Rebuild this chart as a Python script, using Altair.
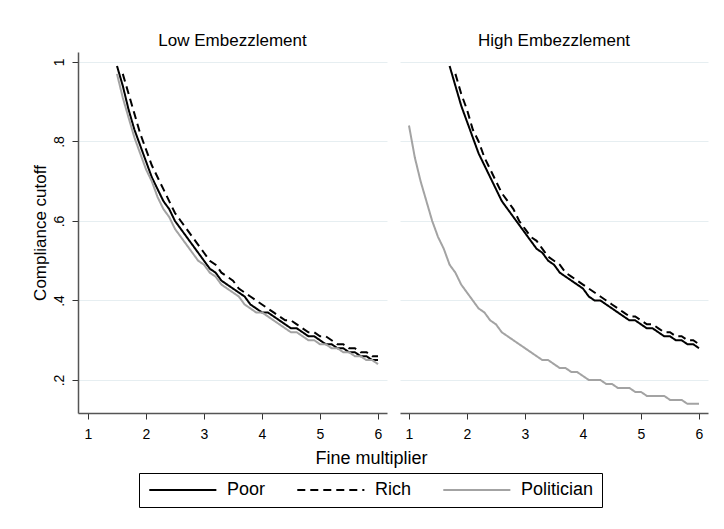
import altair as alt
import pandas as pd

FONT = "Liberation Sans"

# Fine multiplier grid (x values)
fine_grid = [1.0, 1.1, 1.2, 1.3, 1.4, 1.5, 1.6, 1.7, 1.8, 1.9,
             2.0, 2.1, 2.2, 2.3, 2.4, 2.5, 2.6, 2.7, 2.8, 2.9,
             3.0, 3.1, 3.2, 3.3, 3.4, 3.5, 3.6, 3.7, 3.8, 3.9,
             4.0, 4.1, 4.2, 4.3, 4.4, 4.5, 4.6, 4.7, 4.8, 4.9,
             5.0, 5.1, 5.2, 5.3, 5.4, 5.5, 5.6, 5.7, 5.8, 5.9, 6.0]

series_order = ["Poor", "Rich", "Politician"]
panels = ["Low Embezzlement", "High Embezzlement"]

# Low embezzlement
low_poor = [None] * 5 + [0.99, 0.94, 0.88, 0.83, 0.79, 0.75, 0.71, 0.68, 0.65, 0.63,
                         0.60, 0.58, 0.56, 0.54, 0.52, 0.50, 0.48, 0.47, 0.45, 0.44,
                         0.43, 0.42, 0.41, 0.39, 0.38, 0.37, 0.37, 0.36, 0.35, 0.34,
                         0.33, 0.33, 0.32, 0.31, 0.31, 0.30, 0.29, 0.29, 0.28, 0.28,
                         0.27, 0.27, 0.26, 0.26, 0.25, 0.25]
low_rich = [None] * 6 + [0.97, 0.92, 0.87, 0.82, 0.78, 0.74, 0.71, 0.68, 0.65, 0.62,
                         0.60, 0.58, 0.56, 0.54, 0.52, 0.50, 0.49, 0.47, 0.46, 0.45,
                         0.43, 0.42, 0.41, 0.40, 0.39, 0.38, 0.37, 0.36, 0.35, 0.35,
                         0.34, 0.33, 0.32, 0.32, 0.31, 0.31, 0.30, 0.29, 0.29, 0.28,
                         0.28, 0.27, 0.27, 0.26, 0.26]
low_politician = [None] * 5 + [0.97, 0.91, 0.86, 0.81, 0.77, 0.73, 0.70, 0.66, 0.63, 0.61,
                               0.58, 0.56, 0.54, 0.52, 0.50, 0.49, 0.47, 0.46, 0.44, 0.43,
                               0.42, 0.41, 0.39, 0.38, 0.37, 0.37, 0.36, 0.35, 0.34, 0.33,
                               0.32, 0.32, 0.31, 0.30, 0.30, 0.29, 0.29, 0.28, 0.28, 0.27,
                               0.27, 0.26, 0.26, 0.25, 0.25, 0.24]

# High embezzlement
high_poor = [None] * 7 + [0.99, 0.94, 0.89, 0.85, 0.81, 0.77, 0.74, 0.71, 0.68, 0.65,
                          0.63, 0.61, 0.59, 0.57, 0.55, 0.53, 0.52, 0.50, 0.49, 0.47,
                          0.46, 0.45, 0.44, 0.43, 0.41, 0.40, 0.40, 0.39, 0.38, 0.37,
                          0.36, 0.35, 0.35, 0.34, 0.33, 0.33, 0.32, 0.31, 0.31, 0.30,
                          0.30, 0.29, 0.29, 0.28]
high_rich = [None] * 8 + [0.97, 0.92, 0.88, 0.83, 0.80, 0.76, 0.73, 0.70, 0.67, 0.65,
                          0.63, 0.60, 0.58, 0.56, 0.55, 0.53, 0.51, 0.50, 0.49, 0.47,
                          0.46, 0.45, 0.44, 0.43, 0.42, 0.41, 0.40, 0.39, 0.38, 0.37,
                          0.36, 0.36, 0.35, 0.34, 0.34, 0.33, 0.32, 0.32, 0.31, 0.31,
                          0.30, 0.30, 0.29]
high_politician = [0.84, 0.76, 0.70, 0.65, 0.60, 0.56, 0.53, 0.49, 0.47, 0.44,
                   0.42, 0.40, 0.38, 0.37, 0.35, 0.34, 0.32, 0.31, 0.30, 0.29,
                   0.28, 0.27, 0.26, 0.25, 0.25, 0.24, 0.23, 0.23, 0.22, 0.22,
                   0.21, 0.20, 0.20, 0.20, 0.19, 0.19, 0.18, 0.18, 0.18, 0.17,
                   0.17, 0.16, 0.16, 0.16, 0.16, 0.15, 0.15, 0.15, 0.14, 0.14, 0.14]

series_table = {
    ("Low Embezzlement", "Poor"): low_poor,
    ("Low Embezzlement", "Rich"): low_rich,
    ("Low Embezzlement", "Politician"): low_politician,
    ("High Embezzlement", "Poor"): high_poor,
    ("High Embezzlement", "Rich"): high_rich,
    ("High Embezzlement", "Politician"): high_politician,
}

rows = []
for (panel_name, series), vals in series_table.items():
    assert len(vals) == len(fine_grid), (panel_name, series, len(vals))
    for xv, yv in zip(fine_grid, vals):
        if yv is not None:
            rows.append({"panel": panel_name, "series": series, "x": xv, "y": yv})
df = pd.DataFrame(rows)

color_scale = alt.Scale(domain=series_order, range=["#000000", "#000000", "#a3a3a3"])
dash_scale = alt.Scale(domain=series_order, range=[[1, 0], [8, 5], [1, 0]])

# legend line: custom path drawn from -r to 9r (r = sqrt(size)/2) -> ~67 px long
legend = alt.Legend(
    title=None, orient="none", legendX=61, legendY=421, direction="horizontal",
    symbolType="M-1,0H9", symbolSize=180, symbolStrokeWidth=2,
    labelFont=FONT, labelFontSize=18, labelColor="black", labelOffset=62,
    columnPadding=27, padding=8, strokeColor="black",
)

y_ticks = [0.2, 0.4, 0.6, 0.8, 1.0]
x_ticks = [1, 2, 3, 4, 5, 6]


def make_panel(panel_name, first, x_domain, width):
    d = df[df["panel"] == panel_name]
    if first:
        yaxis = alt.Axis(
            values=y_ticks, grid=True,
            labelExpr="datum.value > 0.95 ? '1' : replace(format(datum.value, '.1f'), '0.', '.')",
            labelAngle=270, labelAlign="center", labelBaseline="alphabetic", labelPadding=9,
            title="Compliance cutoff", titleFontSize=17, titleX=-38, titleY=180.5,
            titleAngle=270, titleAlign="center", titleBaseline="middle",
        )
        xaxis = alt.Axis(
            values=x_ticks, format="d", labelPadding=8, labelBaseline="top",
            title="Fine multiplier", titleFontSize=18, titleX=293, titleY=50,
            titleAlign="center", titleBaseline="alphabetic", grid=False,
        )
    else:
        yaxis = alt.Axis(values=y_ticks, grid=True, domain=False, ticks=False,
                         labels=False, title=None)
        xaxis = alt.Axis(values=x_ticks, format="d", labelPadding=8, labelBaseline="top",
                         title=None, grid=False)
    return alt.Chart(d).mark_line(strokeWidth=2).encode(
        x=alt.X("x:Q", scale=alt.Scale(domain=x_domain, nice=False, zero=False), axis=xaxis),
        y=alt.Y("y:Q", scale=alt.Scale(domain=[0.117, 1.025], nice=False, zero=False), axis=yaxis),
        color=alt.Color("series:N", scale=color_scale, legend=legend),
        strokeDash=alt.StrokeDash("series:N", scale=dash_scale, legend=legend),
        detail="series:N",
    ).properties(
        width=width, height=361,
        title=alt.TitleParams(panel_name, font=FONT, fontSize=17, fontWeight="normal",
                              color="black", anchor="middle", offset=-11,
                              baseline="alphabetic"),
    )


left = make_panel("Low Embezzlement", True, [0.828, 6.155], 309)
right = make_panel("High Embezzlement", False, [0.845, 6.155], 308)

chart = alt.hconcat(left, right, spacing=13, bounds="flush").properties(
    autosize=alt.AutoSizeParams(type="none"),
    padding={"left": 78, "top": 52, "right": 646, "bottom": 477},
    background="white",
).configure_view(stroke=None).configure_axis(
    labelFont=FONT, labelFontSize=14, labelColor="black",
    titleFont=FONT, titleColor="black", titleFontWeight="normal",
    tickColor="#333333", tickSize=6, tickWidth=1,
    domainColor="#555555", domainWidth=1.5,
    gridColor="#e6eef1", gridWidth=1,
).configure_legend(strokeWidth=1)

chart.save("out.html", embed_options={"renderer": "svg", "actions": False})
